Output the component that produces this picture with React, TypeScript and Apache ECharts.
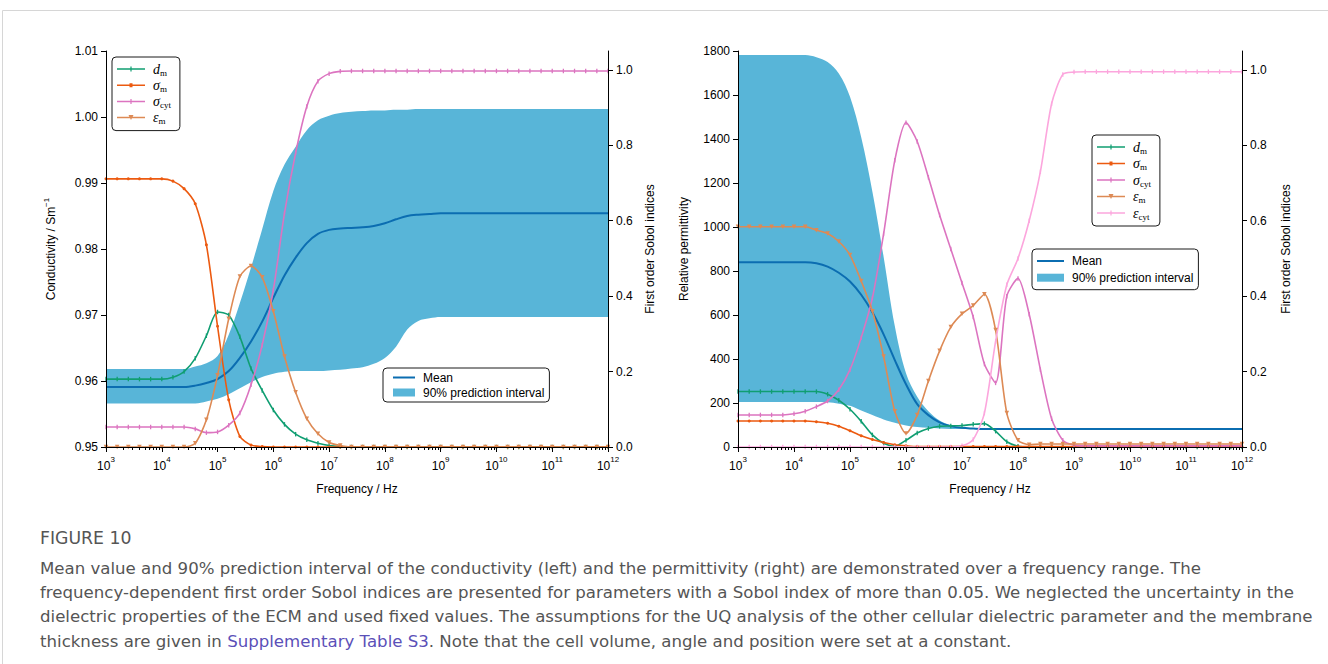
import React, { useEffect, useRef } from "react";
import * as echarts from "echarts";

// log10 of frequency (Hz) at which the curves are sampled
const freqExponent = [
  3.0, 3.2, 3.4, 3.6, 3.8, 4.0, 4.2, 4.4, 4.6, 4.8, 5.0, 5.2, 5.4, 5.6, 5.8, 6.0,
  6.2, 6.4, 6.6, 6.8, 7.0, 7.2, 7.4, 7.6, 7.8, 8.0, 8.2, 8.4, 8.6, 8.8, 9.0, 9.2,
  9.4, 9.6, 9.8, 10.0, 10.2, 10.4, 10.6, 10.8, 11.0, 11.2, 11.4, 11.6, 11.8, 12.0,
];

// ---- Left panel: conductivity (S/m) ----
const condMean = [
  0.9591, 0.9591, 0.9591, 0.9591, 0.9591, 0.9591, 0.9591, 0.9591, 0.9593, 0.9597,
  0.9603, 0.9615, 0.9635, 0.966, 0.969, 0.9726, 0.976, 0.9787, 0.9809, 0.9823,
  0.9829, 0.9831, 0.9832, 0.9833, 0.9835, 0.9839, 0.9845, 0.985, 0.9852, 0.9853,
  0.9854, 0.9854, 0.9854, 0.9854, 0.9854, 0.9854, 0.9854, 0.9854, 0.9854, 0.9854,
  0.9854, 0.9854, 0.9854, 0.9854, 0.9854, 0.9854,
];
const condUpper = [
  0.9618, 0.9618, 0.9618, 0.9618, 0.9618, 0.9618, 0.9618, 0.9618, 0.9622, 0.9627,
  0.9638, 0.967, 0.9718, 0.9772, 0.983, 0.9888, 0.9928, 0.9955, 0.998, 0.9995,
  1.0002, 1.0006, 1.0008, 1.0009, 1.001, 1.001, 1.0011, 1.0011, 1.0012, 1.0012,
  1.0012, 1.0012, 1.0012, 1.0012, 1.0012, 1.0012, 1.0012, 1.0012, 1.0012, 1.0012,
  1.0012, 1.0012, 1.0012, 1.0012, 1.0012, 1.0012,
];
const condLower = [
  0.9566, 0.9566, 0.9566, 0.9566, 0.9566, 0.9566, 0.9566, 0.9566, 0.9566, 0.9569,
  0.9573, 0.958, 0.9589, 0.9598, 0.9606, 0.9611, 0.9614, 0.9615, 0.9615, 0.9615,
  0.9616, 0.9617, 0.9619, 0.9621, 0.9626, 0.9635, 0.9652, 0.9678, 0.9691, 0.9695,
  0.9697, 0.9697, 0.9697, 0.9697, 0.9697, 0.9697, 0.9697, 0.9697, 0.9697, 0.9697,
  0.9697, 0.9697, 0.9697, 0.9697, 0.9697, 0.9697,
];
const sobolCondDm = [
  0.18, 0.18, 0.18, 0.18, 0.18, 0.18, 0.185, 0.2, 0.235, 0.295,
  0.358, 0.35, 0.292, 0.208, 0.15, 0.098, 0.06, 0.034, 0.019, 0.01,
  0.004, 0.001, 0, 0, 0, 0, 0, 0, 0, 0,
  0, 0, 0, 0, 0, 0, 0, 0, 0, 0,
  0, 0, 0, 0, 0, 0,
];
const sobolCondSigmaM = [
  0.711, 0.711, 0.711, 0.711, 0.711, 0.711, 0.705, 0.685, 0.645, 0.536,
  0.32, 0.125, 0.028, 0.005, 0.001, 0, 0, 0, 0, 0,
  0, 0, 0, 0, 0, 0, 0, 0, 0, 0,
  0, 0, 0, 0, 0, 0, 0, 0, 0, 0,
  0, 0, 0, 0, 0, 0,
];
const sobolCondSigmaCyt = [
  0.053, 0.053, 0.053, 0.053, 0.053, 0.053, 0.053, 0.053, 0.048, 0.038,
  0.04, 0.058, 0.09, 0.165, 0.27, 0.416, 0.62, 0.78, 0.903, 0.97,
  0.99, 0.996, 0.997, 0.997, 0.997, 0.997, 0.997, 0.997, 0.997, 0.997,
  0.997, 0.997, 0.997, 0.997, 0.997, 0.997, 0.997, 0.997, 0.997, 0.997,
  0.997, 0.997, 0.997, 0.997, 0.997, 0.997,
];
const sobolCondEpsM = [
  0, 0, 0, 0, 0, 0, 0, 0, 0.01, 0.072,
  0.19, 0.34, 0.452, 0.48, 0.45, 0.36, 0.24, 0.145, 0.075, 0.035,
  0.012, 0.004, 0, 0, 0, 0, 0, 0, 0, 0,
  0, 0, 0, 0, 0, 0, 0, 0, 0, 0,
  0, 0, 0, 0, 0, 0,
];

// ---- Right panel: relative permittivity ----
const permMean = [
  840, 840, 840, 840, 840, 840, 840, 835, 820, 792,
  752, 692, 612, 512, 395, 285, 195, 145, 112, 95,
  87, 84, 82, 82, 82, 82, 82, 82, 82, 82,
  82, 82, 82, 82, 82, 82, 82, 82, 82, 82,
  82, 82, 82, 82, 82, 82,
];
const permUpper = [
  1782, 1782, 1782, 1782, 1782, 1782, 1782, 1772, 1750, 1698,
  1592, 1408, 1160, 865, 550, 335, 228, 162, 120, 99,
  88, 84, 82, 82, 82, 82, 82, 82, 82, 82,
  82, 82, 82, 82, 82, 82, 82, 82, 82, 82,
  82, 82, 82, 82, 82, 82,
];
const permLower = [
  205, 205, 205, 205, 205, 205, 205, 205, 203, 197,
  187, 166, 145, 125, 110, 98, 91, 87, 84, 82,
  82, 82, 82, 82, 82, 82, 82, 82, 82, 82,
  82, 82, 82, 82, 82, 82, 82, 82, 82, 82,
  82, 82, 82, 82, 82, 82,
];
const sobolPermDm = [
  0.147, 0.147, 0.147, 0.147, 0.147, 0.147, 0.147, 0.147, 0.14, 0.124,
  0.1, 0.068, 0.032, 0.01, 0.002, 0.018, 0.037, 0.049, 0.055, 0.056,
  0.057, 0.06, 0.062, 0.042, 0.014, 0.002, 0, 0, 0, 0,
  0, 0, 0, 0, 0, 0, 0, 0, 0, 0,
  0, 0, 0, 0, 0, 0,
];
const sobolPermSigmaM = [
  0.069, 0.069, 0.069, 0.069, 0.069, 0.069, 0.069, 0.067, 0.063, 0.055,
  0.043, 0.03, 0.02, 0.012, 0.006, 0.003, 0.001, 0.001, 0.001, 0.001,
  0.001, 0.001, 0.001, 0.001, 0.001, 0.001, 0.001, 0.001, 0.001, 0.001,
  0.001, 0.001, 0.001, 0.001, 0.001, 0.001, 0.001, 0.001, 0.001, 0.001,
  0.001, 0.001, 0.001, 0.001, 0.001, 0.001,
];
const sobolPermSigmaCyt = [
  0.085, 0.085, 0.085, 0.085, 0.085, 0.088, 0.095, 0.107, 0.122, 0.152,
  0.205, 0.29, 0.395, 0.565, 0.76, 0.86, 0.81, 0.715, 0.615, 0.525,
  0.435, 0.345, 0.22, 0.17, 0.4, 0.447, 0.352, 0.205, 0.075, 0.018,
  0.005, 0.003, 0.003, 0.003, 0.003, 0.003, 0.003, 0.003, 0.003, 0.003,
  0.003, 0.003, 0.003, 0.003, 0.003, 0.003,
];
const sobolPermEpsM = [
  0.584, 0.584, 0.584, 0.584, 0.584, 0.584, 0.584, 0.575, 0.566, 0.545,
  0.509, 0.44, 0.36, 0.24, 0.095, 0.036, 0.085, 0.175, 0.255, 0.318,
  0.353, 0.375, 0.405, 0.31, 0.09, 0.018, 0.006, 0.008, 0.008, 0.008,
  0.008, 0.008, 0.008, 0.008, 0.008, 0.008, 0.008, 0.008, 0.008, 0.008,
  0.008, 0.008, 0.008, 0.008, 0.008, 0.008,
];
const sobolPermEpsCyt = [
  0, 0, 0, 0, 0, 0, 0, 0, 0, 0,
  0, 0, 0, 0, 0, 0, 0, 0, 0, 0,
  0.003, 0.02, 0.09, 0.28, 0.43, 0.5, 0.6, 0.73, 0.91, 0.988,
  0.994, 0.995, 0.995, 0.995, 0.995, 0.995, 0.995, 0.995, 0.995, 0.995,
  0.995, 0.995, 0.995, 0.995, 0.995, 0.995,
];

// ---- Axis ticks ----
const decadeTicks = [1e3, 1e4, 1e5, 1e6, 1e7, 1e8, 1e9, 1e10, 1e11, 1e12];
const sobolTicks = [0, 0.2, 0.4, 0.6, 0.8, 1.0];
const minorTicks: number[] = [];
for (let k = 3; k < 12; k++) for (let m = 2; m <= 9; m++) minorTicks.push(m * Math.pow(10, k));

const captionTitle = "FIGURE 10";
const captionLines = [
  "Mean value and 90% prediction interval of the conductivity (left) and the permittivity (right) are demonstrated over a frequency range. The",
  "frequency-dependent first order Sobol indices are presented for parameters with a Sobol index of more than 0.05. We neglected the uncertainty in the",
  "dielectric properties of the ECM and used fixed values. The assumptions for the UQ analysis of the other cellular dielectric parameter and the membrane",
];
const captionLast = ["thickness are given in ", "Supplementary Table S3", ". Note that the cell volume, angle and position were set at a constant."];

// ---- Styles ----
const C = {
  mean: "#0b6db1",
  band: "#58b5d8",
  dm: "#109e72",
  sm: "#ec5a10",
  scyt: "#dc74c0",
  em: "#dd8a55",
  ecyt: "#fca6dd",
};
const SANS = "'Liberation Sans', Arial, sans-serif";
const SERIF = "'Liberation Serif', 'DejaVu Serif', serif";
const CAPTION_FONT = "'DejaVu Sans', sans-serif";
const CAPTION_SIZE = 16.6;

const pts = (vals: number[]) => freqExponent.map((e, i) => [Math.pow(10, e), vals[i]]);

const symbolFor: Record<string, any> = {
  d_m: { symbol: "rect", symbolSize: [1.3, 4.5] },
  "σ_m": { symbol: "circle", symbolSize: 3 },
  "σ_cyt": { symbol: "rect", symbolSize: [1.3, 4.5] },
  "ε_m": { symbol: "triangle", symbolSize: 4.5, symbolRotate: 180 },
  "ε_cyt": { symbol: "rect", symbolSize: [1.3, 4.5] },
};
const iconFor: Record<string, string> = {
  d_m: "path://M0,1.75H28V3.25H0ZM13.4,0H14.6V5H13.4Z",
  "σ_m": "path://M0,1.75H28V3.25H0ZM12.5,0.5H15.5V4.5H12.5Z",
  "σ_cyt": "path://M0,1.75H28V3.25H0ZM13.4,0H14.6V5H13.4Z",
  "ε_m": "path://M0,1.75H28V3.25H0ZM11.5,0H16.5L14,5Z",
  "ε_cyt": "path://M0,1.75H28V3.25H0ZM13.4,0H14.6V5H13.4Z",
};
const colorFor: Record<string, string> = {
  d_m: C.dm, "σ_m": C.sm, "σ_cyt": C.scyt, "ε_m": C.em, "ε_cyt": C.ecyt,
};

function sobolSeries(name: string, vals: number[], xi: number, yi: number) {
  return {
    type: "line",
    name,
    xAxisIndex: xi,
    yAxisIndex: yi,
    data: pts(vals),
    smooth: 0.25,
    showSymbol: true,
    showAllSymbol: true,
    ...symbolFor[name],
    lineStyle: { color: colorFor[name], width: 1.6 },
    itemStyle: { color: colorFor[name] },
    silent: true,
    z: 5,
  };
}

// band = upper area filled down to the axis, covered below the lower bound with white
function bandSeries(tag: string, up: number[], lo: number[], xi: number, yi: number) {
  return [
    {
      type: "line", name: "90% prediction interval", xAxisIndex: xi, yAxisIndex: yi,
      data: pts(up), smooth: 0.35, symbol: "none", color: C.band,
      itemStyle: { color: C.band },
      lineStyle: { width: 0, opacity: 0 }, areaStyle: { color: C.band, opacity: 1, origin: "start" },
      silent: true, z: 1,
    },
    {
      type: "line", name: "_lower_" + tag, xAxisIndex: xi, yAxisIndex: yi,
      data: pts(lo), smooth: 0.35, symbol: "none", color: "#fff",
      lineStyle: { width: 0, opacity: 0 }, areaStyle: { color: "#fff", opacity: 1, origin: "start" },
      silent: true, z: 2,
    },
  ];
}

function meanSeries(vals: number[], xi: number, yi: number) {
  return {
    type: "line", name: "Mean", xAxisIndex: xi, yAxisIndex: yi, data: pts(vals), smooth: 0.35,
    symbol: "none", color: C.mean, lineStyle: { color: C.mean, width: 2 }, silent: true, z: 3,
  };
}

const axisLineBlack = { show: true, onZero: false, lineStyle: { color: "#000", width: 1 } };
const labelBase = { color: "#000", fontFamily: SANS, fontSize: 12 };
const nameStyle = { color: "#000", fontFamily: SANS, fontSize: 12 };

function xAxes(grid: number) {
  return [
    {
      type: "log", logBase: 10, gridIndex: grid, min: 1e3, max: 1e12, position: "bottom", z: 10,
      axisLine: axisLineBlack,
      axisTick: { show: true, customValues: decadeTicks, length: 5, lineStyle: { color: "#000" } },
      axisLabel: {
        customValues: decadeTicks,
        margin: 8,
        formatter: (v: number) => `{b|10}{s|${Math.round(Math.log10(v))}}`,
        rich: {
          b: { fontFamily: SANS, fontSize: 12, lineHeight: 22, color: "#000" },
          s: { fontFamily: SANS, fontSize: 8, lineHeight: 8, verticalAlign: "top", color: "#000" },
        },
      },
      splitLine: { show: false },
      name: "Frequency / Hz", nameLocation: "middle", nameGap: 36, nameTextStyle: nameStyle,
      nameMoveOverlap: false,
    },
    {
      type: "log", logBase: 10, gridIndex: grid, min: 1e3, max: 1e12, position: "bottom", z: 10,
      axisLine: { show: false },
      axisTick: { show: true, customValues: minorTicks, length: 3, lineStyle: { color: "#000" } },
      axisLabel: { show: false },
      splitLine: { show: false },
    },
  ];
}

function sobolAxis(grid: number, gap: number) {
  return {
    type: "value", gridIndex: grid, position: "right", min: 0, max: 1.05, z: 10,
    axisLine: axisLineBlack,
    axisTick: { show: true, customValues: sobolTicks, length: 5, lineStyle: { color: "#000" } },
    axisLabel: { ...labelBase, customValues: sobolTicks, formatter: (v: number) => v.toFixed(1) },
    splitLine: { show: false },
    name: "First order Sobol indices", nameLocation: "middle", nameGap: gap, nameRotate: 90,
    nameTextStyle: nameStyle, nameMoveOverlap: false,
  };
}

const sobolRich = {
  v: { fontFamily: SERIF, fontStyle: "italic", fontSize: 14, lineHeight: 16, color: "#000", padding: [0, 0, 0, 3] },
  s: { fontFamily: SERIF, fontSize: 9, lineHeight: 8, verticalAlign: "bottom", color: "#000" },
};
const sobolFormatter = (name: string) => {
  const [v, s] = name.split("_");
  return `{v|${v}}{s|${s}}`;
};
const boxStyle = { backgroundColor: "#fff", borderColor: "#1a1a1a", borderWidth: 1, borderRadius: 4 };

function sobolLegend(names: string[], left: number, top: number, gap: number) {
  return {
    orient: "vertical", left, top, ...boxStyle,
    data: names.map((n) => ({ name: n, icon: iconFor[n] })),
    itemWidth: 28, itemHeight: 5, itemGap: gap,
    padding: [5, 9, 5, 5],
    formatter: sobolFormatter,
    textStyle: { rich: sobolRich },
    itemStyle: { borderWidth: 0 },
    symbolKeepAspect: true,
    selectedMode: false,
  };
}

function meanLegend(left: number, top: number, itemWidth: number, gap: number, padding: number[], lh: number) {
  return {
    orient: "vertical", left, top, ...boxStyle,
    data: [
      { name: "Mean", icon: `path://M0,0H${itemWidth}V2H0Z` },
      { name: "90% prediction interval", icon: "rect" },
    ],
    itemWidth, itemHeight: 8, itemGap: gap, padding,
    textStyle: { color: "#000", fontFamily: SANS, fontSize: 12, lineHeight: lh, padding: [0, 0, 0, 3] },
    itemStyle: { borderWidth: 0 },
    symbolKeepAspect: true,
    selectedMode: false,
  };
}

const option: any = {
  animation: false,
  backgroundColor: "#fff",
  grid: [
    { left: 106, top: 51, width: 502, height: 396, containLabel: false, outerBoundsMode: "none" },
    { left: 738, top: 51, width: 504, height: 396, containLabel: false, outerBoundsMode: "none" },
  ],
  xAxis: [...xAxes(0), ...xAxes(1)],
  yAxis: [
    {
      type: "value", gridIndex: 0, position: "left", min: 0.95, max: 1.01, interval: 0.01, z: 10,
      axisLine: axisLineBlack,
      axisTick: { show: true, length: 5, lineStyle: { color: "#000" } },
      axisLabel: { ...labelBase, formatter: (v: number) => v.toFixed(2) },
      splitLine: { show: false },
      name: "{a|Conductivity / Sm}{s|−1}", nameLocation: "middle", nameGap: 46, nameRotate: 90,
      nameMoveOverlap: false,
      nameTextStyle: {
        ...nameStyle,
        rich: {
          a: { fontFamily: SANS, fontSize: 12, lineHeight: 18, color: "#000" },
          s: { fontFamily: SANS, fontSize: 8, lineHeight: 8, verticalAlign: "top", color: "#000" },
        },
      },
    },
    sobolAxis(0, 36),
    {
      type: "value", gridIndex: 1, position: "left", min: 0, max: 1800, interval: 200, z: 10,
      axisLine: axisLineBlack,
      axisTick: { show: true, length: 5, lineStyle: { color: "#000" } },
      axisLabel: { ...labelBase, formatter: (v: number) => String(v) },
      splitLine: { show: false },
      name: "Relative permittivity", nameLocation: "middle", nameGap: 48, nameRotate: 90,
      nameTextStyle: nameStyle, nameMoveOverlap: false,
    },
    sobolAxis(1, 38),
  ],
  legend: [
    sobolLegend(["d_m", "σ_m", "σ_cyt", "ε_m"], 112, 57, 1.2),
    meanLegend(383, 368, 22, 2, [3, 5, 3, 10], 13),
    sobolLegend(["d_m", "σ_m", "σ_cyt", "ε_m", "ε_cyt"], 1092, 135, 1.5),
    meanLegend(1032, 249, 27, 2.7, [5, 5, 5, 5], 14),
  ],
  series: [
    ...bandSeries("L", condUpper, condLower, 0, 0),
    meanSeries(condMean, 0, 0),
    sobolSeries("d_m", sobolCondDm, 0, 1),
    sobolSeries("σ_m", sobolCondSigmaM, 0, 1),
    sobolSeries("σ_cyt", sobolCondSigmaCyt, 0, 1),
    sobolSeries("ε_m", sobolCondEpsM, 0, 1),
    ...bandSeries("R", permUpper, permLower, 2, 2),
    meanSeries(permMean, 2, 2),
    sobolSeries("d_m", sobolPermDm, 2, 3),
    sobolSeries("σ_m", sobolPermSigmaM, 2, 3),
    sobolSeries("σ_cyt", sobolPermSigmaCyt, 2, 3),
    sobolSeries("ε_m", sobolPermEpsM, 2, 3),
    sobolSeries("ε_cyt", sobolPermEpsCyt, 2, 3),
  ],
  graphic: [
    {
      type: "rect", silent: true, z: -10,
      shape: { x: 2.5, y: 10.5, width: 1400, height: 800 },
      style: { fill: "none", stroke: "#d6d6d6", lineWidth: 1 },
    },
    {
      type: "text", x: 40, y: 538, silent: true,
      style: { text: captionTitle, fill: "#555", font: `17.3px ${CAPTION_FONT}`, verticalAlign: "middle" },
    },
    ...captionLines.map((t, i) => ({
      type: "text", x: 40, y: 568 + i * 24.3, silent: true,
      style: { text: t, fill: "#555", font: `${CAPTION_SIZE}px ${CAPTION_FONT}`, verticalAlign: "middle" },
    })),
    {
      type: "text", x: 40, y: 641, silent: true,
      style: {
        text: `{n|${captionLast[0]}}{l|${captionLast[1]}}{n|${captionLast[2]}}`,
        verticalAlign: "middle",
        rich: {
          n: { fill: "#555", fontFamily: CAPTION_FONT, fontSize: CAPTION_SIZE },
          l: { fill: "#5b50b8", fontFamily: CAPTION_FONT, fontSize: CAPTION_SIZE },
        },
      },
    },
  ],
};

export default function App() {
  const ref = useRef<HTMLDivElement>(null);
  useEffect(() => {
    if (!ref.current) return;
    const chart = echarts.init(ref.current, null, { renderer: "svg" });
    chart.setOption(option);
    return () => chart.dispose();
  }, []);
  return (
    <div
      ref={ref}
      style={{ position: "absolute", left: 0, top: 0, width: 1328, height: 664, background: "#fff" }}
    />
  );
}
